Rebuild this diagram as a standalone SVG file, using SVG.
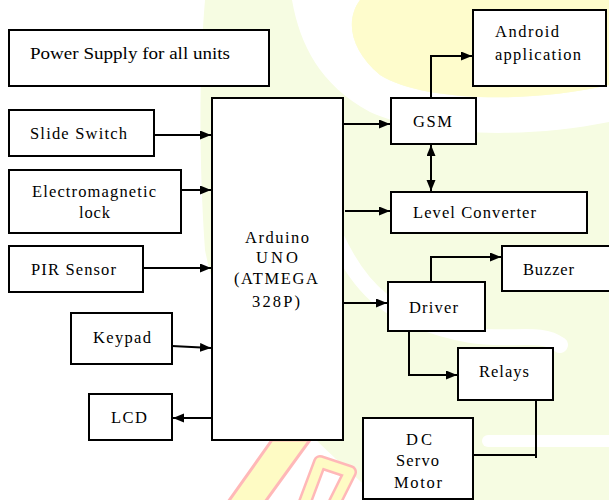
<svg xmlns="http://www.w3.org/2000/svg" width="609" height="500" viewBox="0 0 609 500">
<style>
.box{fill:#fff;stroke:#000;stroke-width:2}
.c{fill:none;stroke:#000;stroke-width:2}
</style>
<defs>
<marker id="ah" markerUnits="userSpaceOnUse" markerWidth="12" markerHeight="10" refX="11" refY="4.5" orient="auto-start-reverse">
<path d="M0,0 L11,4.5 L0,9 Z" fill="#000"/>
</marker>
</defs>
<rect width="609" height="500" fill="#fff"/>
<g id="watermark">
<path d="M205,0 L609,0 L609,500 L380,500 C330,450 230,380 205,250 C198,150 200,60 205,0 Z" fill="#f6fce2"/>
<path d="M292,0 L360,0 C345,20 350,50 380,75 C420,100 520,105 609,85 L609,122 C520,140 420,135 370,112 C320,85 300,45 292,0 Z" fill="#fff"/>
<path d="M360,0 C345,20 350,50 380,75 C420,100 520,105 609,85 L609,0 Z" fill="#fefccc"/>
<path d="M335,235 C360,290 390,320 470,335 C510,342 540,330 560,345" fill="none" stroke="#fff" stroke-width="16" stroke-linecap="round"/>
<path d="M488,441 L609,441" fill="none" stroke="#fff" stroke-width="12" stroke-linecap="round"/>
<path d="M272,440 L310,440 L265,502 L228,502 Z" fill="#fefbc4" stroke="#ffb8b8" stroke-width="3"/>
<path d="M305,502 L320,462 L350,472 L335,502" fill="none" stroke="#ffb8b8" stroke-width="14" stroke-linejoin="round" stroke-linecap="round"/>
<path d="M305,502 L320,462 L350,472 L335,502" fill="none" stroke="#fefbc4" stroke-width="9" stroke-linejoin="round" stroke-linecap="round"/>
</g>
<g id="connectors">
<path class="c" d="M154,135 H211" marker-end="url(#ah)"/>
<path class="c" d="M181,190 H211" marker-end="url(#ah)"/>
<path class="c" d="M143,268 H211" marker-end="url(#ah)"/>
<path class="c" d="M172,346 L211,348" marker-end="url(#ah)"/>
<path class="c" d="M212,418 H173" marker-end="url(#ah)"/>
<path class="c" d="M343,124 H390" marker-end="url(#ah)"/>
<path class="c" d="M431,98 V56 H472" marker-end="url(#ah)"/>
<path class="c" d="M345,211 H390" marker-end="url(#ah)"/>
<path class="c" d="M431,145 V191" marker-start="url(#ah)" marker-end="url(#ah)"/>
<path class="c" d="M343,303 H387" marker-end="url(#ah)"/>
<path class="c" d="M431,282 V257 H501" marker-end="url(#ah)"/>
<path class="c" d="M409,331 V375 H457" marker-end="url(#ah)"/>
<path class="c" d="M536,400 V458 M474,455 H536"/>
</g>
<g font-family="Liberation Serif" font-size="16.5" fill="#000">
<g id="power"><rect class="box" x="9" y="30" width="260" height="56"/><text font-family="Liberation Serif" x="30" y="59" textLength="200" lengthAdjust="spacingAndGlyphs">Power Supply for all units</text></g>
<g id="slide"><rect class="box" x="9" y="110" width="145" height="46"/><text font-family="Liberation Serif" x="30" y="139" textLength="97">Slide Switch</text></g>
<g id="emlock"><rect class="box" x="9" y="170" width="172" height="63"/><text font-family="Liberation Serif" x="32" y="197" textLength="124">Electromagnetic</text><text font-family="Liberation Serif" x="79" y="218" textLength="31">lock</text></g>
<g id="pir"><rect class="box" x="9" y="246" width="134" height="46"/><text font-family="Liberation Serif" x="31" y="275" textLength="85">PIR Sensor</text></g>
<g id="keypad"><rect class="box" x="71" y="313" width="101" height="51"/><text font-family="Liberation Serif" x="93" y="343" textLength="58">Keypad</text></g>
<g id="lcd"><rect class="box" x="89" y="394" width="83" height="46"/><text font-family="Liberation Serif" x="111" y="423" textLength="36">LCD</text></g>
<g id="arduino"><rect class="box" x="212" y="98" width="131" height="342"/>
<text font-family="Liberation Serif" x="245" y="243" textLength="64">Arduino</text>
<text font-family="Liberation Serif" x="256" y="263" textLength="42">UNO</text>
<text font-family="Liberation Serif" x="234" y="284" textLength="84">(ATMEGA</text>
<text font-family="Liberation Serif" x="252" y="307" textLength="48">328P)</text></g>
<g id="gsm"><rect class="box" x="391" y="98" width="85" height="46"/><text font-family="Liberation Serif" x="413" y="127" textLength="39">GSM</text></g>
<g id="android"><rect class="box" x="473" y="10" width="133" height="76"/><text font-family="Liberation Serif" x="495" y="37" textLength="64">Android</text><text font-family="Liberation Serif" x="495" y="60" textLength="86">application</text></g>
<g id="level"><rect class="box" x="391" y="192" width="196" height="41"/><text font-family="Liberation Serif" x="413" y="218" textLength="123">Level Converter</text></g>
<g id="buzzer"><rect class="box" x="502" y="246" width="112" height="45"/><text font-family="Liberation Serif" x="523" y="275" textLength="51">Buzzer</text></g>
<g id="driver"><rect class="box" x="388" y="282" width="97" height="49"/><text font-family="Liberation Serif" x="409" y="313" textLength="49">Driver</text></g>
<g id="relays"><rect class="box" x="458" y="348" width="95" height="52"/><text font-family="Liberation Serif" x="479" y="377" textLength="50">Relays</text></g>
<g id="motor"><rect class="box" x="363" y="418" width="110" height="81"/><text font-family="Liberation Serif" x="406" y="445" textLength="26">DC</text><text font-family="Liberation Serif" x="396" y="466" textLength="43">Servo</text><text font-family="Liberation Serif" x="394" y="488" textLength="48">Motor</text></g>
</g>
</svg>
